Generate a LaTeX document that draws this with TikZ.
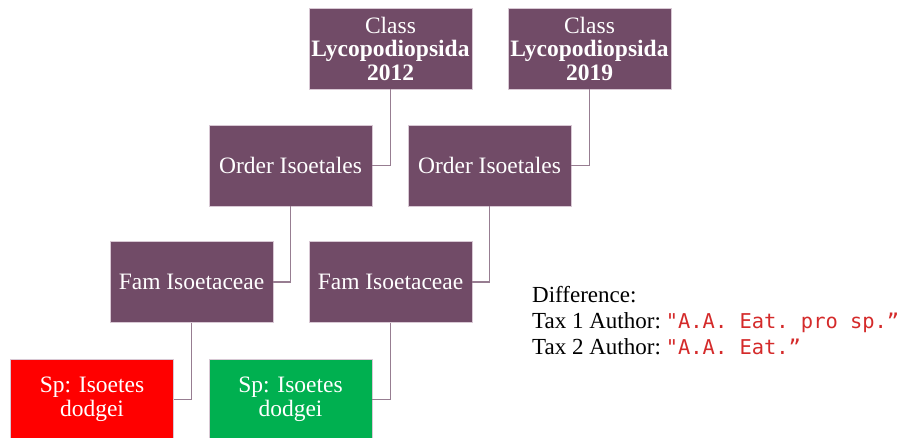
\documentclass[tikz,border=0pt]{standalone}
\usepackage{fontspec}
\setmainfont{Liberation Serif}
\setmonofont{DejaVu Sans Mono}
\definecolor{boxpurple}{HTML}{714B67}
\definecolor{boxedge}{HTML}{D8C8D4}
\definecolor{linkcol}{HTML}{977D91}
\definecolor{spred}{HTML}{FF0000}
\definecolor{spgreen}{HTML}{00B050}
\definecolor{codered}{HTML}{D42A2A}
\begin{document}
\begin{tikzpicture}[x=1pt,y=1pt,
  taxbox/.style={draw=boxedge, line width=0.8pt, fill=boxpurple, text=white,
    minimum width=163pt, minimum height=81pt, inner sep=0pt, align=center,
    font=\fontsize{23.5}{23.5}\selectfont},
  link/.style={draw=linkcol, line width=1.3pt}]
\useasboundingbox (0,0) rectangle (911,-438);
\node[taxbox] (c12) at (390.5,-48.5) {Class\\\textbf{Lycopodiopsida}\\\textbf{2012}};
\node[taxbox] (c19) at (589.5,-48.5) {Class\\\textbf{Lycopodiopsida}\\\textbf{2019}};
\node[taxbox] (o1) at (290.5,-165.5) {Order Isoetales};
\node[taxbox] (o2) at (489.5,-165.5) {Order Isoetales};
\node[taxbox] (f1) at (191.5,-282) {Fam Isoetaceae};
\node[taxbox] (f2) at (390.5,-282) {Fam Isoetaceae};
\node[taxbox, fill=spred] (s1) at (92,-399.5) {Sp: Isoetes\\dodgei};
\node[taxbox, fill=spgreen] (s2) at (290.5,-399.5) {Sp: Isoetes\\dodgei};
\draw[link] (c12.south) |- (o1.east);
\draw[link] (o1.south) |- (f1.east);
\draw[link] (f1.south) |- (s1.east);
\draw[link] (c19.south) |- (o2.east);
\draw[link] (o2.south) |- (f2.east);
\draw[link] (f2.south) |- (s2.east);
\node[anchor=base west, align=left, inner sep=0pt,
  font=\fontsize{23}{26}\selectfont] (diff) at (532,-355)
  {Difference:\\
   Tax 1 Author:\hspace{5pt}{\ttfamily\fontsize{20.4}{26}\selectfont\color{codered}"A.A. Eat. pro sp.”}\\
   Tax 2 Author:\hspace{5pt}{\ttfamily\fontsize{20.4}{26}\selectfont\color{codered}"A.A. Eat.”}};
\end{tikzpicture}
\end{document}
